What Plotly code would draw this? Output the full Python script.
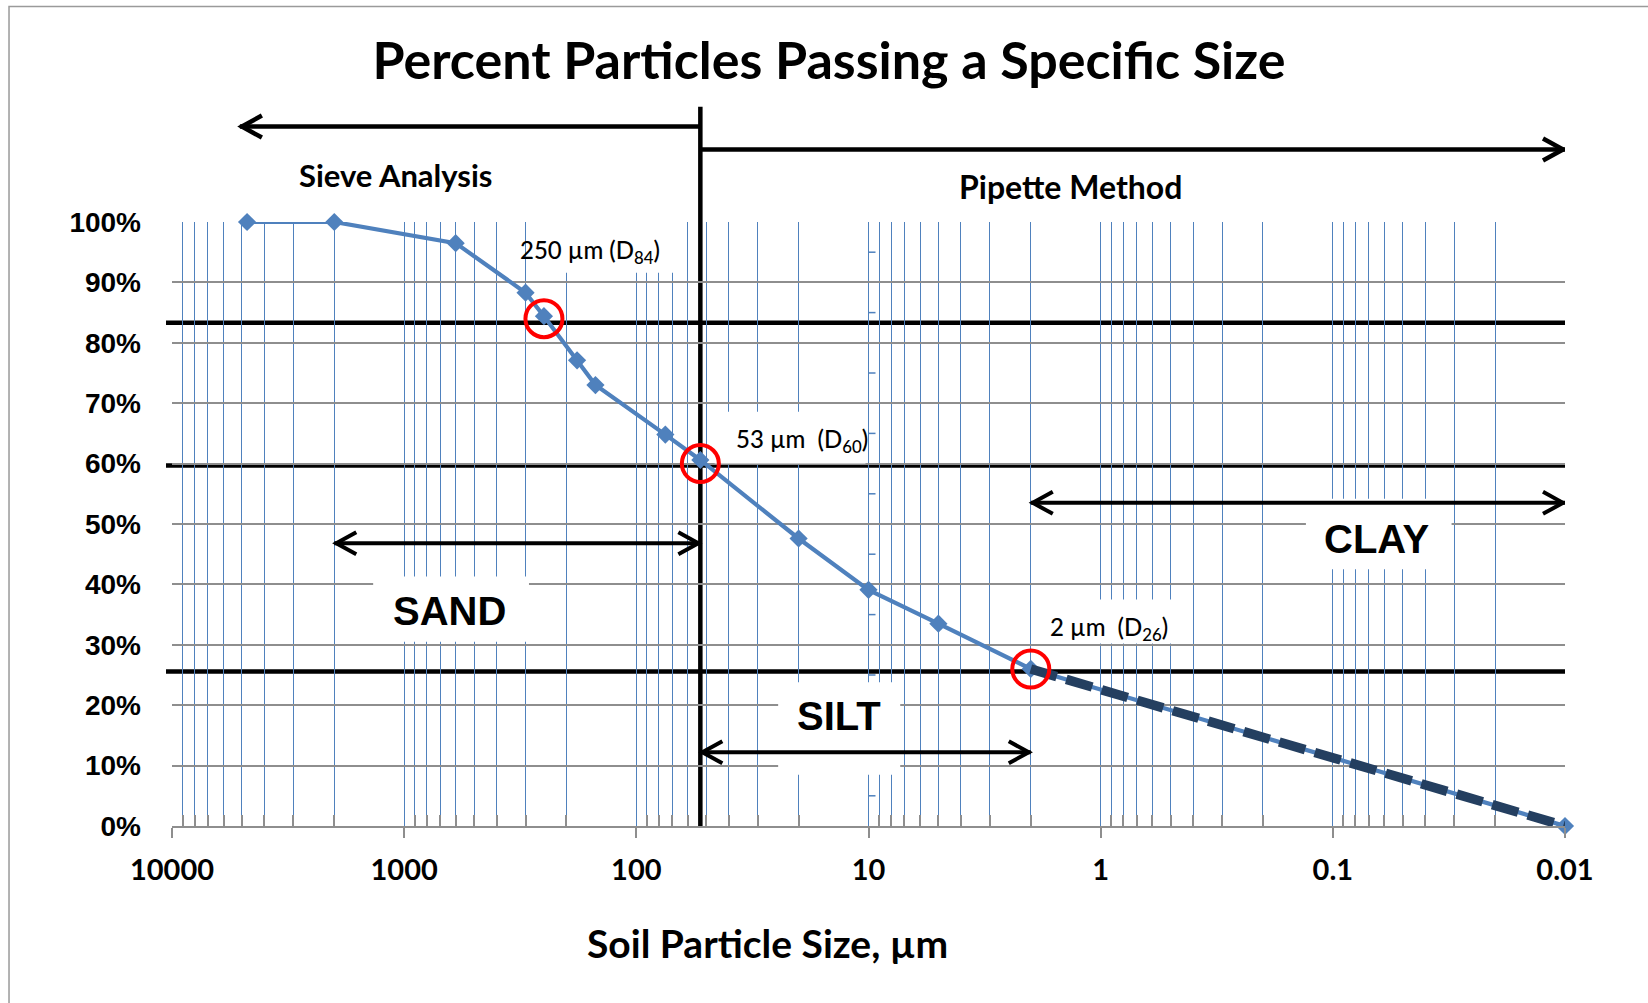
import plotly.graph_objects as go

# ---------------- data ----------------
sizes_um = [4750, 2000, 600, 300, 250, 180, 150, 75, 53, 20, 10, 5, 2, 0.01]
pct_passing = [100, 100, 96.5, 88.3, 84.4, 77.1, 73.0, 64.8, 60.6, 47.6, 39.1, 33.5, 26.0, 0.0]

d_sizes = [250, 53, 2]
d_pct = [84, 60, 26]
d_labels = ["250 µm (D<sub>84</sub>)", "53 µm  (D<sub>60</sub>)", "2 µm  (D<sub>26</sub>)"]

ref_lines_pct = [83.3, 59.7, 25.6]

x_tickvals = [10000, 1000, 100, 10, 1, 0.1, 0.01]
x_ticktext = ["10000", "1000", "100", "10", "1", "0.1", "0.01"]
y_tickvals = [0, 10, 20, 30, 40, 50, 60, 70, 80, 90, 100]
y_ticktext = [f"{v}%" for v in y_tickvals]

sieve_limit_um = 53
sieve_arrow_end_um = 5100
pipette_arrow_end_um = 0.01
sand_range = [2000, 53]
silt_range = [53, 2]
clay_range = [2, 0.01]

# minor grid positions (2..9 within each decade)
minor_vals = [m * 10.0 ** k for k in range(-2, 4) for m in range(2, 10)]

BLUE = "#4F81BD"
GRID_GRAY = "#8E8E8E"
NAVY = "#243F60"
CAL = "Lato"
ARI = "Liberation Sans"

fig = go.Figure()

fig.add_trace(go.Scatter(
    x=sizes_um, y=pct_passing, mode="lines+markers",
    line=dict(color=BLUE, width=4.2),
    marker=dict(symbol="diamond", size=14, color=BLUE),
    cliponaxis=False, name="Percent passing"))

# dashed extrapolation over the clay part (from 2 µm to the last point)
fig.add_trace(go.Scatter(
    x=sizes_um[-2:], y=pct_passing[-2:], mode="lines",
    line=dict(color=NAVY, width=9.5, dash="27px,10px"),
    cliponaxis=False, name="extrapolated"))

fig.add_trace(go.Scatter(
    x=d_sizes, y=d_pct, mode="markers",
    marker=dict(symbol="circle-open", size=37, color="red", line=dict(width=4, color="red")),
    cliponaxis=False, name="D values"))

shapes = []
# outer chart border
shapes.append(dict(type="rect", xref="paper", yref="paper", x0=-0.117, x1=1.2, y0=-0.5, y1=1.3567,
                   line=dict(color="#9A9A9A", width=1.5), fillcolor="rgba(0,0,0,0)", layer="below"))
# small ticks of the secondary axis at 10 µm
for v in range(5, 100, 10):
    shapes.append(dict(type="line", xref="x", yref="y", xsizemode="pixel", xanchor=10, x0=0, x1=7,
                       y0=v, y1=v, line=dict(color=BLUE, width=1.5), layer="between"))
# white label boxes (hide grid)
boxes = [
    ([1360, 290], [30.5, 41.3]),      # SAND
    ([24.5, 7.3], [8.5, 23.8]),       # SILT
    ([0.1306, 0.0308], [42.5, 54.2]), # CLAY
    ([287, 63.7], [91.6, 100]),       # 250 label
    ([46, 10.3], [60, 68.6]),         # 53 label
    ([1.82, 0.46], [30.2, 37.5]),     # 2 label
]
for (xr, yr) in boxes:
    shapes.append(dict(type="rect", xref="x", yref="y", x0=xr[0], x1=xr[1], y0=yr[0], y1=yr[1],
                       fillcolor="white", line=dict(width=0), layer="between"))
# horizontal black reference lines
for v in ref_lines_pct:
    shapes.append(dict(type="line", xref="paper", yref="y", x0=-0.0043, x1=1, y0=v, y1=v,
                       line=dict(color="black", width=4.5), layer="between"))
# vertical sieve / pipette boundary
shapes.append(dict(type="line", xref="x", yref="paper", x0=sieve_limit_um, x1=sieve_limit_um,
                   y0=0, y1=1.191, line=dict(color="black", width=4.5), layer="between"))


def arrow(x_from, x_to, y, yref, both=False, width=4, head_len=20, head_half=11):
    """Horizontal arrow drawn as shapes: a line plus chevron heads (pointing towards x_to)."""
    out = [dict(type="line", xref="x", yref=yref, x0=x_from, x1=x_to, y0=y, y1=y,
                line=dict(color="black", width=width), layer="above")]
    ends = [x_to] + ([x_from] if both else [])
    for xe in ends:
        other = x_from if xe == x_to else x_to
        sgn = 1 if xe > other else -1   # left-pointing: chevron opens to the right (+px)
        tip = 2 * sgn
        path = f"M {tip + sgn*head_len},{head_half} L {tip},0 L {tip + sgn*head_len},{-head_half}"
        out.append(dict(type="path", xref="x", yref=yref, xsizemode="pixel", ysizemode="pixel",
                        xanchor=xe, yanchor=y, path=path,
                        line=dict(color="black", width=width), layer="above"))
    return out

shapes += arrow(sieve_limit_um, sieve_arrow_end_um, 1.158, "paper", width=4.5)
shapes += arrow(sieve_limit_um, pipette_arrow_end_um, 1.12, "paper", width=4.5)
shapes += arrow(sand_range[1], sand_range[0], 46.8, "y", both=True)
shapes += arrow(silt_range[0], silt_range[1], 12.2, "y", both=True)
shapes += arrow(clay_range[0], clay_range[1], 53.5, "y", both=True)

annotations = []

def label(text, x, y, size, family=CAL, weight="bold"):
    return dict(text=text, x=x, y=y, xref="paper", yref="paper", showarrow=False,
                xanchor="center", yanchor="middle",
                font=dict(family=family, size=size, color="black", weight=weight))

def px2paper(px, py):
    return (px - 172) / 1393.0, (826.7 - py) / 604.2

annotations.append(label("Sieve Analysis", *px2paper(395, 175), 31))
annotations.append(label("Pipette Method", *px2paper(1070, 187), 32))
annotations.append(label("SAND", *px2paper(449, 612), 40, family=ARI))
annotations.append(label("SILT", *px2paper(839, 717), 40, family=ARI))
annotations.append(label("CLAY", *px2paper(1377, 540), 40, family=ARI))
annotations.append(label(d_labels[0], *px2paper(590, 252), 24, weight=500))
annotations.append(label(d_labels[1], *px2paper(802, 441), 24, weight=500))
annotations.append(label(d_labels[2], *px2paper(1109, 629), 24, weight=500))
annotations.append(label("Soil Particle Size, µm", *px2paper(767, 944), 39))

fig.update_layout(
    width=1648, height=1003,
    margin=dict(l=172, r=83, t=222, b=177),
    paper_bgcolor="white", plot_bgcolor="white",
    showlegend=False,
    title=dict(text="Percent Particles Passing a Specific Size", x=829 / 1648, xanchor="center",
               y=1 - 61 / 1003, yanchor="middle",
               font=dict(family=CAL, size=52, color="black", weight="bold")),
    shapes=shapes, annotations=annotations,
)

fig.update_xaxes(
    type="log", range=[4, -2], autorange=False,
    tickmode="array", tickvals=x_tickvals, ticktext=x_ticktext,
    tickfont=dict(family=CAL, size=29, color="black", weight="bold"),
    ticks="outside", ticklen=10, tickwidth=1.5, tickcolor=GRID_GRAY, ticklabelstandoff=7,
    showgrid=True, gridcolor=BLUE, gridwidth=1.4,
    showline=True, linecolor=GRID_GRAY, linewidth=1.5,
    zeroline=False,
    minor=dict(tickmode="array", tickvals=minor_vals, showgrid=True, gridcolor=BLUE, gridwidth=1.4,
               ticks="inside", ticklen=11, tickcolor=GRID_GRAY, tickwidth=1.5),
)
fig.update_yaxes(
    range=[0, 100], autorange=False,
    tickmode="array", tickvals=y_tickvals, ticktext=y_ticktext,
    tickfont=dict(family=ARI, size=28, color="black", weight="bold"),
    ticks="", ticklabelstandoff=30,
    showgrid=True, gridcolor=GRID_GRAY, gridwidth=1.5,
    showline=False, zeroline=False,
)

fig.write_html("out.html")
